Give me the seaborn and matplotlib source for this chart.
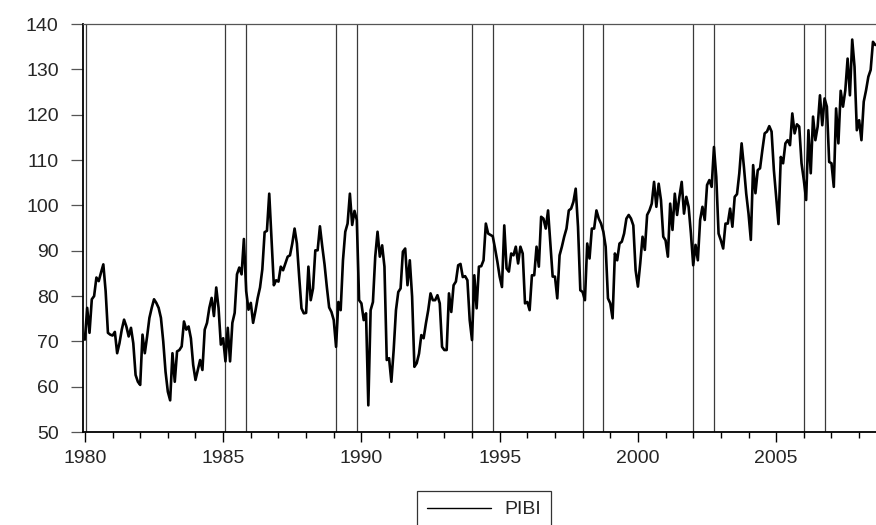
import numpy as np
import pandas as pd
import matplotlib
matplotlib.use("Agg")
import matplotlib.pyplot as plt
from matplotlib.lines import Line2D
import seaborn as sns

## monthly PIBI, 1980m1 onwards
pibi_1980s = [
    70.4, 77.4, 71.9, 79.3, 80.0, 84.1, 83.3, 85.2, 87.0, 81.1, 71.9, 71.5,
    71.3, 72.1, 67.4, 69.6, 72.6, 74.8, 73.3, 71.1, 73.0, 69.6, 62.6, 61.1,
    60.4, 71.5, 67.4, 71.1, 75.2, 77.4, 79.3, 78.5, 77.4, 75.2, 70.0, 63.3,
    58.9, 57.0, 67.4, 61.1, 67.8, 68.1, 68.9, 74.4, 72.6, 73.3, 70.7, 64.8,
    61.5, 63.7, 65.9, 63.7, 72.6, 74.1, 77.4, 79.6, 75.6, 81.9, 77.4, 69.3,
    70.7, 65.6, 73.0, 65.6, 74.1, 76.3, 84.8, 86.3, 84.8, 92.6, 81.1, 77.0,
    78.5, 74.1, 76.7, 79.6, 81.9, 85.9, 94.1, 94.4, 102.6, 92.3, 82.4, 83.5,
    83.2, 86.5, 85.7, 87.2, 88.7, 89.0, 91.6, 94.9, 91.6, 84.2, 77.3, 76.2,
    76.3, 86.5, 79.1, 81.7, 90.1, 90.1, 95.4, 91.0, 87.0, 82.0, 77.5, 76.5,
    74.7, 68.8, 78.7, 76.9, 87.9, 94.2, 96.0, 102.6, 95.7, 98.8, 96.8, 79.1,
]
pibi_1990s = [
    78.4, 74.7, 76.2, 55.9, 76.9, 78.7, 88.7, 94.2, 88.7, 91.2, 86.5, 65.9,
    66.3, 61.1, 68.1, 76.9, 80.9, 81.7, 89.8, 90.5, 82.4, 87.9, 79.9, 64.4,
    65.2, 67.3, 71.4, 70.7, 74.0, 76.9, 80.6, 79.1, 79.1, 80.2, 78.4, 68.8,
    68.1, 68.1, 80.6, 76.5, 82.4, 83.2, 86.8, 87.1, 84.2, 84.4, 83.5, 74.7,
    70.3, 84.6, 77.3, 86.5, 86.6, 87.9, 96.0, 93.8, 93.5, 93.2, 90.5, 87.6,
    84.3, 82.0, 95.6, 86.1, 85.4, 89.4, 89.0, 90.9, 87.2, 90.9, 89.4, 78.4,
    78.7, 76.9, 84.6, 84.6, 90.9, 86.5, 97.5, 97.1, 94.9, 98.9, 91.6, 84.3,
    84.3, 79.5, 89.0, 90.9, 93.1, 94.9, 98.9, 99.3, 100.8, 103.7, 95.3, 81.3,
    80.9, 79.1, 91.6, 88.3, 94.9, 94.9, 98.9, 97.1, 96.0, 94.2, 90.9, 79.5,
    78.4, 75.1, 89.4, 87.9, 91.6, 92.0, 93.8, 97.1, 97.9, 97.1, 95.6, 85.7,
]
pibi_2000s = [
    82.1, 87.2, 93.1, 90.2, 97.9, 98.9, 100.4, 105.2, 99.7, 104.8, 101.2, 93.1,
    92.3, 88.7, 100.4, 94.6, 102.6, 97.9, 101.9, 105.2, 98.2, 101.9, 99.7, 93.8,
    86.8, 91.3, 87.9, 96.8, 99.7, 96.8, 104.5, 105.6, 104.1, 112.9, 106.3, 93.8,
    92.3, 90.5, 96.0, 96.0, 99.3, 95.3, 101.9, 102.5, 107.1, 113.7, 108.5, 102.6,
    98.2, 92.4, 108.9, 102.7, 107.8, 108.2, 112.2, 115.9, 116.3, 117.5, 116.3, 107.8,
    101.9, 95.9, 110.7, 109.3, 113.7, 114.4, 113.3, 120.3, 115.9, 117.9, 117.4, 109.3,
    105.6, 101.2, 116.6, 107.1, 119.6, 114.4, 117.4, 124.3, 117.7, 123.6, 121.8, 109.6,
    109.3, 104.1, 121.4, 113.7, 125.3, 121.8, 125.4, 132.4, 124.3, 136.6, 130.6, 116.6,
    118.8, 114.4, 122.9, 125.4, 128.4, 129.9, 136.1, 135.4,
]

start_year = 1980
break_dates = [1980.04, 1985.08, 1985.83, 1989.08, 1989.83, 1994.0, 1994.75,
               1998.0, 1998.75, 2002.0, 2002.75, 2006.0, 2006.75]
y_ticks = [50, 60, 70, 80, 90, 100, 110, 120, 130, 140]
x_major = [1980, 1985, 1990, 1995, 2000, 2005]
x_minor = list(range(1980, 2009))

pibi = pibi_1980s + pibi_1990s + pibi_2000s
df = pd.DataFrame({"t": start_year + np.arange(len(pibi)) / 12.0, "PIBI": pibi})

## style
sns.set_style("ticks")
plt.rcParams["font.family"] = ["Liberation Sans", "DejaVu Sans"]

fig = plt.figure(figsize=(8.76, 5.25), dpi=100)
ax = fig.add_axes([0.0947, 0.177, 0.9053, 0.777])

for b in break_dates:
    ax.axvline(b, color="#3a3a3a", lw=0.9, zorder=1)
sns.lineplot(data=df, x="t", y="PIBI", color="black", lw=1.9, ax=ax, zorder=3)

ax.set_xlim(1979.93, 2008.61)
ax.set_ylim(50, 140)
ax.set_yticks(y_ticks)
ax.set_xticks(x_major)
ax.set_xticks(x_minor, minor=True)
ax.set_xlabel("")
ax.set_ylabel("")

ax.tick_params(axis="y", length=8.5, width=0.9, color="#555555", pad=9, labelsize=14)
ax.tick_params(axis="x", which="major", length=7, width=1.0, color="black", pad=6, labelsize=14)
ax.tick_params(axis="x", which="minor", length=4.5, width=1.0, color="black")

ax.spines["right"].set_visible(False)
ax.spines["top"].set_color("#555555")
ax.spines["top"].set_linewidth(0.9)
for s in ["left", "bottom"]:
    ax.spines[s].set_color("black")
    ax.spines[s].set_linewidth(1.3)

## legend box hangs off the bottom edge, like the original export
handle = Line2D([], [], color="black", lw=1.0)
leg = fig.legend([handle], ["PIBI"], loc="upper center",
                 bbox_to_anchor=(484 / 876, 1 - 491 / 525), fontsize=14,
                 frameon=True, fancybox=False, edgecolor="black",
                 handlelength=3.3, handletextpad=0.7, borderpad=0.5,
                 borderaxespad=0)
leg.get_frame().set_linewidth(0.9)

plt.savefig("out.png", dpi=100)
